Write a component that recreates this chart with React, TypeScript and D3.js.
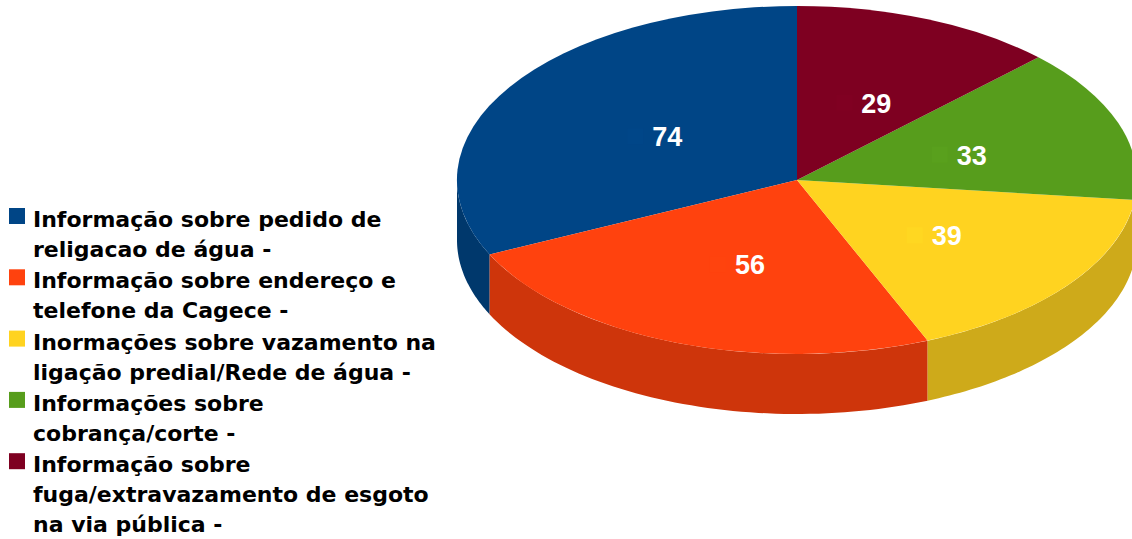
import * as d3 from "d3";

// data, in the order LibreOffice drew it (counter-clockwise from 12 o'clock)
const categories = [
  "Informação sobre pedido de religacao de água -",
  "Informação sobre endereço e telefone da Cagece -",
  "Inormações sobre vazamento na ligação predial/Rede de água -",
  "Informações sobre cobrança/corte -",
  "Informação sobre fuga/extravazamento de esgoto na via pública -",
];
const legendLines = [
  ["Informação sobre pedido de", "religacao de água -"],
  ["Informação sobre endereço e", "telefone da Cagece -"],
  ["Inormações sobre vazamento na", "ligação predial/Rede de água -"],
  ["Informações sobre", "cobrança/corte -"],
  ["Informação sobre", "fuga/extravazamento de esgoto", "na via pública -"],
];
const values = [74, 56, 39, 33, 29];
const colors = ["#004586", "#ff420e", "#ffd320", "#579d1c", "#7e0021"];

const W = 1132, H = 539;
const cx = 797, cy = 180, rx = 340, ry = 174, depth = 60;
const FONT = "'DejaVu Sans', Verdana, sans-serif";
const LABEL_FONT = "'Liberation Sans', Arial, sans-serif";

type Slice = d3.PieArcDatum<number>;

// point on the top ellipse; angle measured counter-clockwise from the top
const px = (a: number) => cx - rx * Math.sin(a);
const py = (a: number) => cy - ry * Math.cos(a);

export default function App() {
  const pie = d3.pie<number>().sort(null).value(d => d);
  const slices: Slice[] = pie(values);

  // unit arc, mirrored + squashed into the ellipse
  const arc = d3.arc<Slice>().innerRadius(0).outerRadius(1);

  const line = d3.line<[number, number]>();

  // front wall of a slice (only between 90° and 270°)
  const wall = (s: Slice) => {
    const a0 = Math.max(s.startAngle, Math.PI / 2);
    const a1 = Math.min(s.endAngle, (Math.PI * 3) / 2);
    if (a1 <= a0) return null;
    const steps = d3.range(0, 61).map(i => a0 + ((a1 - a0) * i) / 60);
    const top = steps.map(a => [px(a), py(a)] as [number, number]);
    const bottom = steps.slice().reverse().map(a => [px(a), py(a) + depth] as [number, number]);
    return line([...top, ...bottom]) + "Z";
  };

  const labelR = 0.5;
  const lineH = 30, entryGap = 61.3, legendY0 = 227;
  let baseline = legendY0;
  const legendItems = legendLines.map((lines, i) => {
    const y = baseline;
    baseline += entryGap + (lines.length - 2) * lineH;
    return { lines, y, i };
  });

  return (
    <svg width={W} height={H} style={{ position: "absolute", left: 0, top: 0, background: "#fff" }}
      fontFamily={FONT}>
      <g>
        {slices.map((s, i) => {
          const d = wall(s);
          return d ? <path key={"w" + i} d={d} fill={d3.color(colors[i])!.darker(0.6).toString()} /> : null;
        })}
      </g>
      <g transform={`translate(${cx},${cy}) scale(${-rx},${ry})`}>
        {slices.map((s, i) => (
          <path key={"t" + i} d={arc(s)!} fill={colors[i]} />
        ))}
      </g>
      <g>
        {slices.map((s, i) => {
          const mid = (s.startAngle + s.endAngle) / 2;
          const x = cx - rx * labelR * Math.sin(mid);
          const y = cy - ry * labelR * Math.cos(mid);
          return (
            <g key={"l" + i} transform={`translate(${x},${y})`}>
              <rect x={-26} y={-5} width={16} height={16}
                fill={d3.color(colors[i])!.brighter(0.05).toString()} />
              <text x={14} y={13} textAnchor="middle" fill="#fff" fontSize={27}
                fontWeight="bold" fontFamily={LABEL_FONT}>
                {s.data}
              </text>
            </g>
          );
        })}
      </g>
      <g>
        {legendItems.map(({ lines, y, i }) => (
          <g key={"lg" + i}>
            <title>{categories[i]}</title>
            <rect x={9} y={y - 19} width={16} height={16} fill={colors[i]} />
            <text x={33} y={y} fontSize={22} fontWeight="bold" fill="#000">
              {lines.map((t, j) => (
                <tspan key={j} x={33} y={y + j * lineH}>{t}</tspan>
              ))}
            </text>
          </g>
        ))}
      </g>
    </svg>
  );
}
